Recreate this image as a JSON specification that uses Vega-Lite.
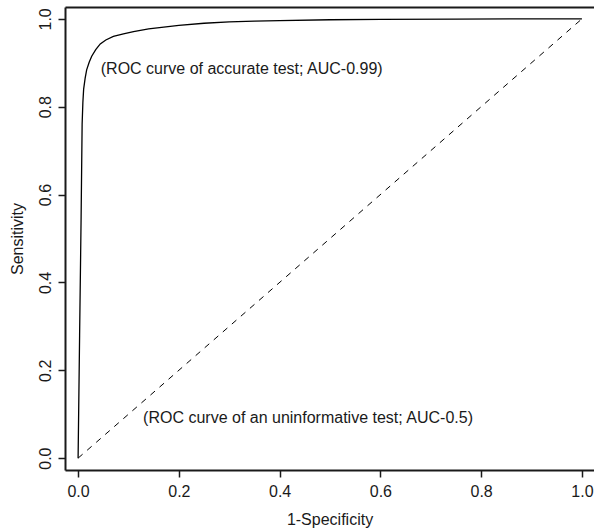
{
  "$schema": "https://vega.github.io/schema/vega-lite/v6.json",
  "width": 529,
  "height": 463,
  "autosize": {"type": "none"},
  "padding": {"left": 65, "top": 7, "right": 0, "bottom": 61},
  "background": "white",
  "config": {
    "view": {"stroke": null},
    "font": "Liberation Sans",
    "axis": {
      "grid": false,
      "domainColor": "#1a1a1a",
      "domainWidth": 2,
      "tickColor": "#1a1a1a",
      "tickWidth": 1.5,
      "tickSize": 7,
      "labelFont": "Liberation Sans",
      "labelFontSize": 16,
      "labelColor": "#1a1a1a",
      "titleFont": "Liberation Sans",
      "titleFontSize": 16,
      "titleFontWeight": "normal",
      "titleColor": "#1a1a1a"
    }
  },
  "datasets": {
    "roc": [
      {"fpr": 0.0, "tpr": 0.0},
      {"fpr": 0.003, "tpr": 0.28},
      {"fpr": 0.006, "tpr": 0.55},
      {"fpr": 0.008, "tpr": 0.76},
      {"fpr": 0.0095, "tpr": 0.81},
      {"fpr": 0.011, "tpr": 0.84},
      {"fpr": 0.014, "tpr": 0.865},
      {"fpr": 0.017, "tpr": 0.884},
      {"fpr": 0.022, "tpr": 0.901},
      {"fpr": 0.027, "tpr": 0.915},
      {"fpr": 0.035, "tpr": 0.93},
      {"fpr": 0.044, "tpr": 0.943},
      {"fpr": 0.055, "tpr": 0.952},
      {"fpr": 0.07, "tpr": 0.96},
      {"fpr": 0.09, "tpr": 0.966},
      {"fpr": 0.11, "tpr": 0.971},
      {"fpr": 0.14, "tpr": 0.977},
      {"fpr": 0.17, "tpr": 0.981},
      {"fpr": 0.2, "tpr": 0.985},
      {"fpr": 0.25, "tpr": 0.99},
      {"fpr": 0.3, "tpr": 0.993},
      {"fpr": 0.35, "tpr": 0.995},
      {"fpr": 0.4, "tpr": 0.996},
      {"fpr": 0.5, "tpr": 0.998},
      {"fpr": 0.6, "tpr": 0.999},
      {"fpr": 0.75, "tpr": 0.9995},
      {"fpr": 0.9, "tpr": 1.0},
      {"fpr": 1.0, "tpr": 1.0}
    ],
    "diag": [
      {"fpr": 0.0, "tpr": 0.0},
      {"fpr": 1.0, "tpr": 1.0}
    ],
    "notes": [
      {"fpr": 0.045, "tpr": 0.886, "label": "(ROC curve of accurate test; AUC-0.99)"},
      {"fpr": 0.129, "tpr": 0.091, "label": "(ROC curve of an uninformative test; AUC-0.5)"}
    ]
  },
  "layer": [
    {
      "data": {"name": "roc"},
      "mark": {"type": "line", "color": "black", "strokeWidth": 1.3, "clip": true},
      "encoding": {
        "x": {
          "field": "fpr", "type": "quantitative",
          "scale": {"domain": [-0.026, 1.024], "nice": false, "zero": false},
          "axis": {"orient": "bottom", "values": [0, 0.2, 0.4, 0.6, 0.8, 1.0], "format": ".1f", "title": "1-Specificity", "labelPadding": 6, "titlePadding": 12, "labelFlush": false}
        },
        "y": {
          "field": "tpr", "type": "quantitative",
          "scale": {"domain": [-0.027, 1.027], "nice": false, "zero": false},
          "axis": {"orient": "left", "values": [0, 0.2, 0.4, 0.6, 0.8, 1.0], "format": ".1f", "title": "Sensitivity", "labelAngle": -90, "labelAlign": "center", "labelBaseline": "bottom", "labelPadding": 5, "titlePadding": 12, "labelFlush": false}
        },
        "order": {"field": "fpr", "type": "quantitative"}
      }
    },
    {
      "data": {"name": "diag"},
      "mark": {"type": "line", "color": "black", "strokeWidth": 1, "strokeDash": [6, 6]},
      "encoding": {
        "x": {
          "field": "fpr", "type": "quantitative",
          "axis": {"orient": "top", "labels": false, "ticks": false, "title": null, "domain": true}
        },
        "y": {"field": "tpr", "type": "quantitative", "axis": null}
      }
    },
    {
      "data": {"name": "notes"},
      "mark": {"type": "text", "font": "Liberation Sans", "fontSize": 16, "color": "#1a1a1a", "align": "left", "baseline": "middle"},
      "encoding": {
        "x": {"field": "fpr", "type": "quantitative", "axis": null},
        "y": {"field": "tpr", "type": "quantitative", "axis": null},
        "text": {"field": "label"}
      }
    }
  ],
  "resolve": {"axis": {"x": "independent", "y": "independent"}}
}
